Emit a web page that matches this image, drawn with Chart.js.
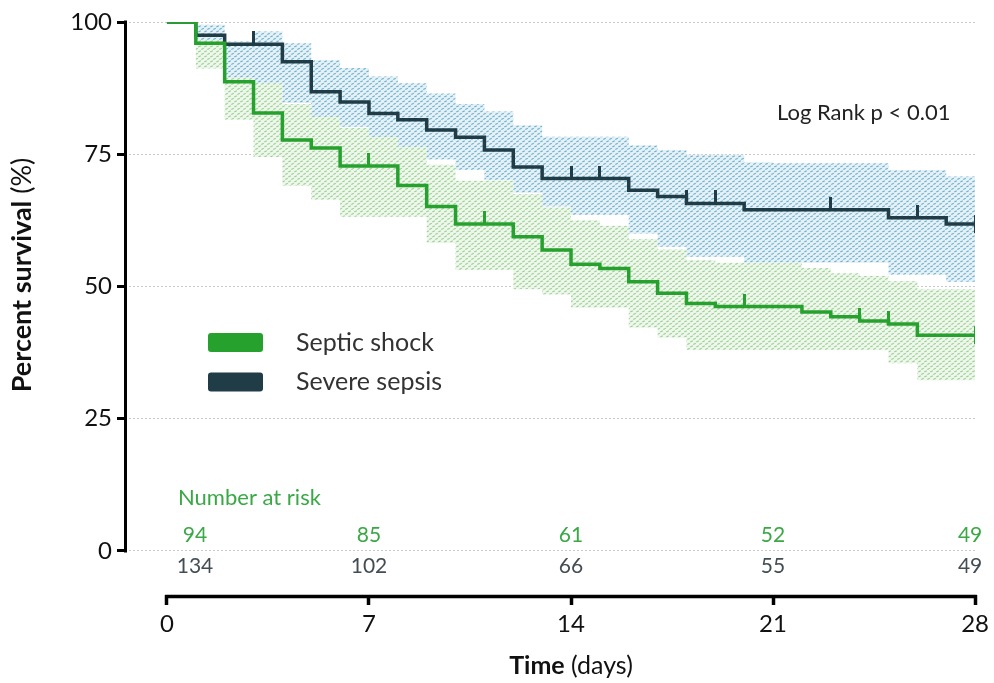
<!DOCTYPE html>
<html><head><meta charset="utf-8">
<script src="https://cdn.jsdelivr.net/npm/chart.js@4.4.1/dist/chart.umd.min.js"></script>
<style>html,body{margin:0;padding:0;background:#fff;}#wrap{width:994px;height:683px;position:relative;}</style>
</head><body><div id="wrap"><canvas id="c" width="994" height="683"></canvas></div>
<script>
// ---------------- data ----------------
const seriesNames = ['Septic shock', 'Severe sepsis'];
const xTicks = [0, 7, 14, 21, 28];
const yTicks = [0, 25, 50, 75, 100];

// Kaplan-Meier steps (time of change, survival % from that time)
const shockTimes  = [0, 1, 2, 3, 4, 5, 6, 8, 9, 10, 12, 13, 14, 15, 16, 17, 18, 19, 22, 23, 24, 25, 26, 28];
const shockSurv   = [100, 96.0, 88.7, 82.8, 77.7, 76.2, 72.8, 69.1, 65.1, 61.8, 59.4, 56.9, 54.2, 53.4, 50.9, 48.7, 46.8, 46.2, 45.2, 44.3, 43.5, 42.9, 40.8, 40.8];
const sepsisTimes = [0, 1, 2, 4, 5, 6, 7, 8, 9, 10, 11, 12, 13, 16, 17, 18, 20, 25, 27, 28];
const sepsisSurv  = [100, 97.5, 95.8, 92.5, 86.8, 84.9, 82.7, 81.5, 79.6, 78.2, 75.8, 72.6, 70.4, 68.2, 67.0, 65.7, 64.5, 63.0, 61.8, 61.8];

// censored observations (days)
const shockCensor  = [7, 11, 20, 24, 25, 28];
const sepsisCensor = [3, 14, 15, 18, 19, 23, 26, 28];

// 95% confidence bands, by day
const bandDays    = [0,1,2,3,4,5,6,7,8,9,10,11,12,13,14,15,16,17,18,19,20,21,22,23,24,25,26,27,28];
const sepsisUpper = [100,99.5,96.3,98.2,96,92.8,91.3,89.7,88.4,86.5,84.5,83.1,80.5,78.3,78.3,78.3,76.7,75.8,74.9,74.9,73.5,73.3,73.3,73.3,73.3,72,72,70.8,70.8];
const sepsisLower = [100,96.5,89.5,88.4,84.7,82.1,80.2,78.3,76.4,74,72,70.1,67.7,65.1,63.5,63.5,60,57.5,55.6,55.6,54.5,54.5,54.5,54.5,54.5,52.2,52.2,50.9,50.9];
const shockUpper  = [100,98.5,93,88.5,84.5,83,80,80,76.5,73,70,70,67.5,65,62.5,61.5,59,57,55,54.5,54.5,54.5,53.5,52.5,52,51,49.5,49.5,49.5];
const shockLower  = [100,91.2,81.5,74.5,69,66.4,63.2,63.2,63.2,58.2,53.1,53.1,49.5,48.5,46,46,42.2,40.3,38,38,38,38,38,38,38,35.5,32.3,32.3,32.3];

// number at risk
const riskDays     = [0, 7, 14, 21, 28];
const shockAtRisk  = [94, 85, 61, 52, 49];
const sepsisAtRisk = [134, 102, 66, 55, 49];

const pValueText = 'Log Rank p < 0.01';

// ---------------- styling ----------------
const FONT = 'Lato';
const GREEN = '#27a12e';
const DARK = '#1f3c47';
const GREEN_TEXT = '#3aa845';
const DARK_TEXT = '#434e54';

function makePattern(bg, fg) {
  const c = document.createElement('canvas');
  c.width = 6; c.height = 5;
  const g = c.getContext('2d');
  g.fillStyle = bg; g.fillRect(0, 0, 6, 5);
  g.strokeStyle = fg; g.lineWidth = 1.1;
  g.beginPath();
  g.moveTo(0.3, 2.0); g.lineTo(2.8, 0.8);
  g.moveTo(3.3, 4.5); g.lineTo(5.8, 3.3);
  g.stroke();
  return g.createPattern(c, 'repeat');
}
function makeTick(color, centered) {
  const c = document.createElement('canvas');
  c.width = 3; c.height = 26;
  const g = c.getContext('2d');
  g.fillStyle = color;
  if (centered) g.fillRect(0, 4, 3, 18); else g.fillRect(0, 0, 3, 14);
  return c;
}
function survAt(times, vals, t) {
  let v = vals[0];
  for (let i = 0; i < times.length; i++) if (times[i] <= t) v = vals[i];
  return v;
}
const pts = (xs, ys) => xs.map((x, i) => ({ x: x, y: ys[i] }));
const censorPts = (cs, times, vals) => cs.map(t => ({ x: t, y: survAt(times, vals, t) }));

const decor = {
  id: 'decor',
  afterDraw(chart) {
    const { ctx, chartArea: a, scales: { x, y } } = chart;
    ctx.save();
    // axis lines
    ctx.strokeStyle = '#000';
    ctx.lineCap = 'butt';
    ctx.lineWidth = 3;
    ctx.beginPath();
    ctx.moveTo(a.left + 0.5, y.getPixelForValue(yTicks[yTicks.length - 1]) - 1.5);
    ctx.lineTo(a.left + 0.5, y.getPixelForValue(yTicks[0]) + 1.5);
    ctx.stroke();
    ctx.lineWidth = 3.5;
    ctx.beginPath();
    ctx.moveTo(x.getPixelForValue(xTicks[0]) - 1.75, a.bottom + 1.5);
    ctx.lineTo(x.getPixelForValue(xTicks[xTicks.length - 1]) + 1.75, a.bottom + 1.5);
    ctx.stroke();

    // axis titles (mixed weight)
    function mixed(parts, cx, cy, size) {
      let total = 0;
      parts.forEach(p => { ctx.font = p[1] + ' ' + size + 'px ' + FONT; p.w = ctx.measureText(p[0]).width; total += p.w; });
      let sx = cx - total / 2;
      ctx.textAlign = 'left'; ctx.textBaseline = 'middle'; ctx.fillStyle = '#111';
      parts.forEach(p => { ctx.font = p[1] + ' ' + size + 'px ' + FONT; ctx.fillText(p[0], sx, cy); sx += p.w; });
    }
    mixed([['Time', 'bold'], [' (days)', 'normal']], x.getPixelForValue(14), 666, 25);
    ctx.save();
    ctx.translate(22, 275);
    ctx.rotate(-Math.PI / 2);
    mixed([['Percent survival', 'bold'], [' (%)', 'normal']], 0, 0, 27);
    ctx.restore();

    // p value
    ctx.font = '22px ' + FONT; ctx.fillStyle = '#222';
    ctx.textAlign = 'left'; ctx.textBaseline = 'middle';
    ctx.fillText(pValueText, 777, 113);

    // legend
    const legend = [[seriesNames[0], GREEN], [seriesNames[1], DARK]];
    legend.forEach((l, i) => {
      const cy = 342.5 + i * 39.5;
      ctx.fillStyle = l[1];
      ctx.beginPath();
      if (ctx.roundRect) ctx.roundRect(208, cy - 9.5, 55, 19, 3); else ctx.rect(208, cy - 9.5, 55, 19);
      ctx.fill();
      ctx.fillStyle = '#333';
      ctx.font = '25px ' + FONT;
      ctx.fillText(l[0], 296, cy);
    });

    // number at risk
    ctx.font = '22px ' + FONT; ctx.fillStyle = GREEN_TEXT; ctx.textAlign = 'left';
    ctx.fillText('Number at risk', 178, 498);
    ctx.font = '21px ' + FONT;
    ctx.textAlign = 'center';
    riskDays.forEach((d, i) => {
      let px = x.getPixelForValue(d);
      px = Math.min(Math.max(px, a.left + 70), a.right - 5);
      ctx.fillStyle = GREEN_TEXT; ctx.fillText(String(shockAtRisk[i]), px, 535);
      ctx.fillStyle = DARK_TEXT; ctx.fillText(String(sepsisAtRisk[i]), px, 566);
    });
    ctx.restore();
  }
};

function build() {
  const ctx = document.getElementById('c').getContext('2d');
  const bluePat = makePattern('#e6f1f6', '#68aed0');
  const greenPat = makePattern('#eef7eb', '#98cf90');
  const tickG = makeTick(GREEN, false), tickGEnd = makeTick(GREEN, true);
  const tickD = makeTick(DARK, false), tickDEnd = makeTick(DARK, true);
  const last = xTicks[xTicks.length - 1];
  const bandBase = { borderWidth: 0, borderColor: 'rgba(0,0,0,0)', pointRadius: 0, stepped: 'before' };

  new Chart(ctx, {
    type: 'line',
    data: {
      datasets: [
        { label: seriesNames[1], data: pts(sepsisTimes, sepsisSurv), borderColor: DARK, borderWidth: 3.5, stepped: 'before', pointRadius: 0, fill: false, order: 1 },
        { label: seriesNames[0], data: pts(shockTimes, shockSurv), borderColor: GREEN, borderWidth: 3.5, stepped: 'before', pointRadius: 0, fill: false, order: 0 },
        Object.assign({ label: 'sepsis upper', data: pts(bandDays, sepsisUpper), fill: '+1', backgroundColor: bluePat, order: 5 }, bandBase),
        Object.assign({ label: 'sepsis lower', data: pts(bandDays, sepsisLower), fill: false, order: 5 }, bandBase),
        Object.assign({ label: 'shock upper', data: pts(bandDays, shockUpper), fill: '+1', backgroundColor: greenPat, order: 6 }, bandBase),
        Object.assign({ label: 'shock lower', data: pts(bandDays, shockLower), fill: false, order: 6 }, bandBase),
        { label: 'sepsis censored', data: censorPts(sepsisCensor, sepsisTimes, sepsisSurv), showLine: false, pointRadius: 6,
          pointStyle: sepsisCensor.map(t => t === last ? tickDEnd : tickD), order: 1 },
        { label: 'shock censored', data: censorPts(shockCensor, shockTimes, shockSurv), showLine: false, pointRadius: 6,
          pointStyle: shockCensor.map(t => t === last ? tickGEnd : tickG), order: 0 }
      ]
    },
    options: {
      responsive: false,
      animation: false,
      events: [],
      layout: { padding: { top: 22, right: 18, left: 0, bottom: 0 } },
      plugins: { legend: { display: false }, tooltip: { enabled: false }, title: { display: false } },
      scales: {
        x: {
          type: 'linear', min: -1.453, max: 28,
          afterBuildTicks: s => { s.ticks = xTicks.map(v => ({ value: v })); },
          afterFit: s => { s.height = 88; },
          grid: { display: true, drawOnChartArea: false, drawTicks: true, tickLength: 10, tickColor: '#000', tickWidth: 3.5 },
          border: { display: false },
          ticks: { font: { family: FONT, size: 24 }, color: '#111', padding: 5, maxRotation: 0, autoSkip: false }
        },
        y: {
          type: 'linear', min: -8.32, max: 100,
          afterBuildTicks: s => { s.ticks = yTicks.map(v => ({ value: v })); },
          afterFit: s => { s.width = 125; },
          grid: { color: '#c9c9c9', lineWidth: 1, drawTicks: true, tickLength: 8, tickColor: '#000', tickWidth: 3, tickBorderDash: [] },
          border: { display: false, dash: [2, 2] },
          ticks: { font: { family: FONT, size: 24 }, color: '#111', padding: 5, autoSkip: false }
        }
      }
    },
    plugins: [decor]
  });
}
if (document.fonts && document.fonts.load) {
  Promise.all([document.fonts.load('20px Lato'), document.fonts.load('bold 20px Lato')]).then(build, build);
} else build();
</script></body></html>
